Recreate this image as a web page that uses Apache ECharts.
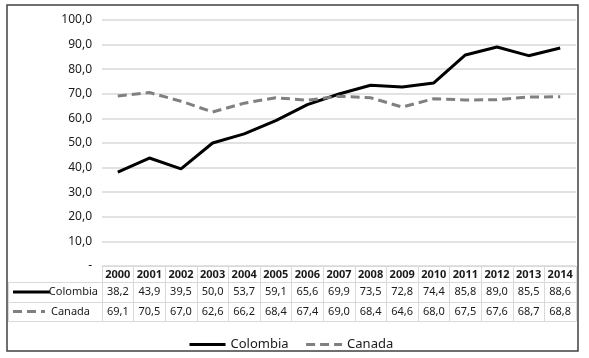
<!DOCTYPE html>
<html>
<head>
<meta charset="utf-8">
<script src="https://cdn.jsdelivr.net/npm/echarts@6/dist/echarts.min.js"></script>
<style>html,body{margin:0;padding:0;background:#fff}#c{width:589px;height:358px}</style>
</head>
<body>
<div id="c"></div>
<script>
var years = ['2000','2001','2002','2003','2004','2005','2006','2007','2008','2009','2010','2011','2012','2013','2014'];
var colombia = [38.2,43.9,39.5,50.0,53.7,59.1,65.6,69.9,73.5,72.8,74.4,85.8,89.0,85.5,88.6];
var canada = [69.1,70.5,67.0,62.6,66.2,68.4,67.4,69.0,68.4,64.6,68.0,67.5,67.6,68.7,68.8];
var seriesNames = ['Colombia','Canada'];

var FONT = '"Noto Sans", "Open Sans", sans-serif';
var GRID = '#d9d9d9';
function fmt(v){ return v.toFixed(1).replace('.', ','); }

var chart = echarts.init(document.getElementById('c'), null, {renderer:'canvas'});
function tableAxis(offset, values, showLabel){
  return {
    type:'category', data: years, position:'bottom', offset: offset, boundaryGap:true,
    axisLine:{show:true, lineStyle:{color:GRID, width:1}},
    axisTick:{show:false},
    axisLabel:{show:showLabel, interval:0, margin:4, color:'#1a1a1a', fontFamily:FONT, fontSize:11,
      formatter:function(v, i){ return values ? fmt(values[i]) : v; }},
    splitLine:{show:false}
  };
}
var option = {
  animation:false,
  textStyle:{fontFamily:FONT},
  grid:{left:102, right:13, top:20, bottom:92, containLabel:false},
  legend:{
    data: seriesNames, left:183, top:333, itemWidth:36, itemHeight:14, itemGap:16,
    itemStyle:{opacity:0, borderWidth:0},
    lineStyle:{width:3},
    textStyle:{fontFamily:FONT, fontSize:13, color:'#1a1a1a'}
  },
  xAxis:[
    {
      type:'category', data: years, position:'bottom', boundaryGap:true,
      axisLine:{show:true, lineStyle:{color:GRID, width:1}},
      axisTick:{show:true, interval:0, length:55, lineStyle:{color:GRID, width:1}},
      axisLabel:{interval:0, margin:3, color:'#1a1a1a', fontFamily:FONT, fontSize:11, fontWeight:'bold'},
      splitLine:{show:false}
    },
    tableAxis(16, colombia, true),
    tableAxis(36, canada, true),
    tableAxis(55, null, false)
  ],
  yAxis:{
    type:'value', min:0, max:100, interval:10,
    axisLine:{show:false}, axisTick:{show:false},
    axisLabel:{margin:10, color:'#1a1a1a', fontFamily:FONT, fontSize:12,
      formatter:function(v){ return v === 0 ? '-' : fmt(v); }},
    splitLine:{lineStyle:{color:GRID, width:1.5}}
  },
  series:[
    {name:seriesNames[0], type:'line', data: colombia, symbol:'none', showSymbol:false,
     lineStyle:{color:'#000', width:3}, itemStyle:{color:'#000'}},
    {name:seriesNames[1], type:'line', data: canada, symbol:'none', showSymbol:false,
     lineStyle:{color:'#808080', width:3, type:[9,5]}, itemStyle:{color:'#808080'}}
  ],
  graphic:[
    {type:'rect', shape:{x:7, y:5, width:571, height:346}, style:{fill:'none', stroke:'#404040', lineWidth:1.5}, silent:true},
    {type:'line', shape:{x1:8, y1:282.5, x2:102, y2:282.5}, style:{stroke:GRID, lineWidth:1}},
    {type:'line', shape:{x1:8, y1:302.5, x2:102, y2:302.5}, style:{stroke:GRID, lineWidth:1}},
    {type:'line', shape:{x1:8, y1:321.5, x2:102, y2:321.5}, style:{stroke:GRID, lineWidth:1}},
    {type:'line', shape:{x1:8.5, y1:282, x2:8.5, y2:321.5}, style:{stroke:GRID, lineWidth:1}},
    {type:'line', shape:{x1:13, y1:292, x2:50, y2:292}, style:{stroke:'#000', lineWidth:3}},
    {type:'text', style:{text:seriesNames[0], x:98, y:292, align:'right', verticalAlign:'middle', fontFamily:FONT, fontSize:11, fill:'#1a1a1a'}},
    {type:'line', shape:{x1:13, y1:311.5, x2:45, y2:311.5}, style:{stroke:'#808080', lineWidth:3, lineDash:[9,5]}},
    {type:'text', style:{text:seriesNames[1], x:51, y:311.5, align:'left', verticalAlign:'middle', fontFamily:FONT, fontSize:11, fill:'#1a1a1a'}}
  ]
};
chart.setOption(option);
</script>
</body>
</html>
